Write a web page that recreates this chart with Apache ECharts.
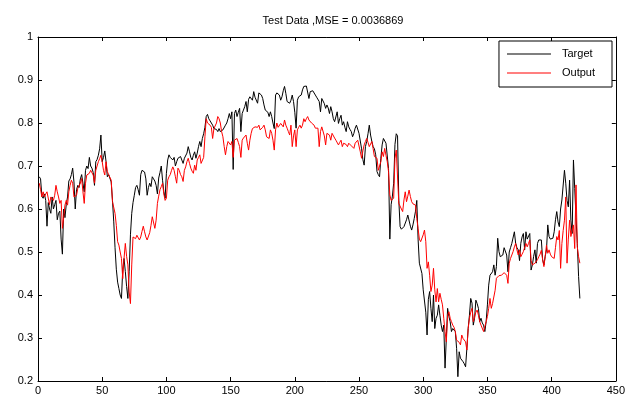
<!DOCTYPE html>
<html><head><meta charset="utf-8">
<script src="https://cdn.jsdelivr.net/npm/echarts@6/dist/echarts.min.js"></script>
<style>html,body{margin:0;padding:0;background:#fff}#c{width:628px;height:396px}</style>
</head><body><div id="c"></div><script>
const titleText = 'Test Data ,MSE = 0.0036869';
const seriesNames = ['Target', 'Output'];
const xTicks = [0, 50, 100, 150, 200, 250, 300, 350, 400, 450];
const yTicks = [0.2, 0.3, 0.4, 0.5, 0.6, 0.7, 0.8, 0.9, 1];

const target = [
0.675,0.67,0.63,0.625,0.635,0.62,0.56,0.615,0.60,0.59,
0.628,0.60,0.61,0.62,0.575,0.59,0.595,0.53,0.495,0.60,
0.58,0.61,0.628,0.665,0.67,0.68,0.695,0.663,0.60,0.645,
0.655,0.65,0.67,0.68,0.66,0.64,0.69,0.70,0.694,0.72,
0.70,0.695,0.685,0.655,0.71,0.715,0.725,0.74,0.772,0.71,
0.72,0.735,0.71,0.675,0.68,0.68,0.663,0.62,0.57,0.51,
0.46,0.43,0.415,0.40,0.392,0.46,0.485,0.455,0.42,0.392,
0.454,0.54,0.59,0.615,0.632,0.65,0.655,0.645,0.632,0.68,
0.69,0.694,0.686,0.67,0.632,0.65,0.66,0.652,0.675,0.67,
0.665,0.655,0.635,
0.672,0.685,0.70,0.667,0.64,0.625,0.683,0.714,0.726,
0.72,0.716,0.714,0.72,0.70,0.71,0.718,0.714,0.722,0.72,
0.706,0.718,0.714,0.73,0.745,0.733,0.72,0.714,0.725,0.733,
0.718,0.73,0.745,0.757,0.745,0.764,0.775,0.79,0.815,0.82,
0.81,0.805,0.80,0.795,0.787,0.79,0.785,0.78,0.787,0.78,
0.776,0.784,0.78,0.795,0.80,0.81,0.822,0.81,0.826,0.692,
0.822,0.83,0.815,0.825,0.834,0.78,0.822,0.83,0.838,0.85,
0.826,0.855,0.861,0.865,0.853,0.873,0.86,0.857,0.846,0.87,
0.873,0.865,0.857,0.842,0.83,0.834,0.825,0.815,0.826,0.815,
0.80,0.787,0.865,0.87,
0.869,0.865,0.853,0.861,0.875,0.885,0.869,0.85,
0.848,0.846,0.853,0.865,0.85,0.825,0.788,0.853,0.861,0.857,
0.865,0.877,0.885,0.888,0.886,0.885,0.857,0.873,0.877,0.875,
0.877,0.865,0.86,0.857,0.85,0.826,0.857,0.853,0.845,0.834,
0.842,0.835,0.822,0.838,0.826,0.81,0.803,0.807,0.826,0.799,
0.81,0.818,0.795,0.803,0.79,0.78,0.803,0.791,0.785,0.78,
0.768,0.776,0.788,0.795,0.799,0.776,0.772,0.74,0.715,0.702,
0.745,0.757,0.775,0.795,0.772,0.757,0.745,0.74,0.726,0.687,
0.68,0.675,0.718,0.749,0.764,0.76,0.753,0.749,0.694,0.53,
0.61,0.63,0.66,0.75,0.775,0.77,0.62,
0.559,0.553,0.551,0.559,0.555,0.575,0.586,0.582,
0.56,0.551,0.563,0.578,0.595,0.62,0.53,0.474,0.477,0.45,
0.412,0.41,0.36,0.307,0.39,0.408,0.369,0.338,0.40,0.322,
0.346,0.353,0.377,0.353,0.33,0.315,0.33,0.23,0.30,0.369,
0.35,0.338,0.315,0.322,0.318,0.315,0.276,0.21,0.268,0.253,
0.25,0.245,0.24,0.233,0.276,0.322,0.353,0.392,0.381,0.33,
0.346,0.388,0.38,0.369,0.338,0.346,0.335,0.33,0.315,0.338,
0.377,0.423,0.446,0.45,0.454,0.47,0.446,0.466,0.532,0.501,
0.489,0.49,0.493,0.51,0.512,0.493,0.454,0.50,0.51,0.52,
0.524,0.547,0.52,0.51,0.505,
0.48,0.52,0.535,0.543,0.505,
0.547,0.53,0.528,0.543,0.458,0.47,0.49,0.505,0.474,0.52,
0.528,0.532,0.528,0.482,0.47,0.49,0.505,0.563,0.536,0.53,
0.528,0.532,0.547,0.575,0.594,0.57,0.559,0.60,0.621,0.625,
0.69,0.66,0.62,0.605,0.667,0.574,0.543,0.714,0.648,0.58,
0.52,0.443,0.392
];

const output = [
0.66,0.645,0.628,0.64,0.628,0.635,0.64,0.636,0.61,0.628,
0.625,0.62,0.632,0.655,0.64,0.628,0.613,0.62,0.555,0.58,
0.609,0.62,0.609,0.64,0.655,0.667,0.66,0.628,0.63,0.632,
0.648,0.644,0.66,0.671,0.64,0.613,0.66,0.679,0.675,0.683,
0.69,0.694,0.679,0.66,0.69,0.70,0.71,0.717,0.725,0.71,
0.69,0.679,0.71,0.687,0.68,0.679,0.667,0.617,0.615,0.59,
0.562,0.524,0.516,0.50,0.485,0.438,0.485,0.52,0.49,0.47,
0.407,0.38,0.47,0.535,0.533,0.531,0.539,0.535,0.528,0.535,
0.548,0.56,0.547,0.535,0.528,0.524,0.545,0.562,0.582,0.586,
0.555,0.574,0.613,
0.63,0.645,0.652,0.66,0.635,0.62,0.625,0.667,0.675,
0.68,0.69,0.698,0.69,0.675,0.66,0.695,0.69,0.68,0.675,
0.664,0.69,0.698,0.71,0.718,0.706,0.695,0.688,0.683,0.702,
0.69,0.714,0.72,0.726,0.706,0.702,0.72,0.768,0.81,0.80,
0.80,0.795,0.79,0.764,0.787,0.784,0.80,0.815,0.81,0.80,
0.78,0.768,0.745,0.726,0.745,0.757,0.76,0.749,0.757,0.72,
0.76,0.757,0.764,0.755,0.745,0.72,0.76,0.765,0.768,0.772,
0.753,0.737,0.76,0.776,0.787,0.784,0.791,0.79,0.79,0.795,
0.784,0.787,0.79,0.795,0.784,0.768,0.766,0.764,0.784,0.776,
0.76,0.737,0.784,0.80,
0.79,0.788,0.799,0.795,0.791,0.807,0.795,0.788,
0.78,0.772,0.795,0.745,0.77,0.784,0.745,0.784,0.79,0.795,
0.788,0.795,0.81,0.803,0.81,0.815,0.807,0.803,0.80,0.799,
0.795,0.788,0.79,0.788,0.745,0.78,0.791,0.788,0.77,0.749,
0.776,0.772,0.772,0.76,0.776,0.772,0.765,0.76,0.764,0.749,
0.755,0.76,0.745,0.753,0.753,0.75,0.745,0.753,0.749,0.747,
0.745,0.741,0.753,0.757,0.76,0.764,0.733,0.718,0.735,0.749,
0.757,0.764,0.755,0.745,0.741,0.757,0.74,0.722,0.722,0.718,
0.69,0.70,0.71,0.733,0.722,0.741,0.725,0.71,0.687,0.633,
0.62,0.62,0.625,0.718,0.737,0.733,0.613,
0.609,0.60,0.594,0.621,0.64,0.617,0.63,0.644,
0.629,0.617,0.612,0.609,0.609,0.578,0.555,0.53,0.524,0.528,
0.54,0.551,0.524,0.462,0.477,0.446,0.408,0.423,0.462,0.412,
0.384,0.415,0.384,0.404,0.39,0.377,0.346,0.315,0.291,0.353,
0.361,0.346,0.338,0.33,0.325,0.315,0.295,0.299,0.29,0.284,
0.307,0.299,0.295,0.291,0.272,0.322,0.346,0.36,0.369,0.338,
0.349,0.36,0.365,0.353,0.338,0.33,0.326,0.315,0.318,0.338,
0.35,0.369,0.392,0.369,0.38,0.384,0.411,0.439,0.443,0.445,
0.446,0.446,0.45,0.452,0.454,0.446,0.427,0.474,0.485,0.493,
0.501,0.512,0.52,0.505,0.493,
0.505,0.489,0.495,0.501,0.497,
0.52,0.512,0.52,0.528,0.48,0.47,0.472,0.474,0.47,0.482,
0.489,0.495,0.504,0.482,0.466,0.49,0.516,0.497,0.505,0.495,
0.489,0.489,0.485,0.51,0.536,0.528,0.55,0.462,0.52,0.55,
0.574,0.628,0.474,0.53,0.574,0.536,0.55,0.563,0.508,0.656,
0.512,0.489,0.474
];

const FONT = '"Liberation Sans", Arial, Helvetica, sans-serif';
const chart = echarts.init(document.getElementById('c'), null, {renderer: 'canvas'});
const pairs = arr => arr.map((v, i) => [i + 1, v]);
const axisBase = {
  axisLine: {show: true, onZero: false, lineStyle: {color: '#000', width: 1}},
  axisTick: {show: true, inside: true, length: 4, lineStyle: {color: '#000', width: 1}},
  splitLine: {show: false}
};
chart.setOption({
  animation: false,
  backgroundColor: '#fff',
  title: {
    text: titleText, left: 328, top: 10, textAlign: 'center',
    textStyle: {fontFamily: FONT, fontSize: 11, fontWeight: 'normal', color: '#000'}
  },
  legend: {
    orient: 'vertical', right: 16, top: 41,
    icon: 'rect', itemWidth: 44, itemHeight: 1, itemGap: 5,
    padding: [6, 17, 7, 8],
    borderColor: '#000', borderWidth: 1, borderRadius: 0, backgroundColor: '#fff',
    textStyle: {fontFamily: FONT, fontSize: 11, color: '#000', lineHeight: 14, padding: [0, 0, 0, 6]},
    data: seriesNames
  },
  grid: {left: 38, right: 9, top: 37, bottom: 15, containLabel: false},
  xAxis: [
    Object.assign({type: 'value', position: 'bottom', min: xTicks[0], max: xTicks[xTicks.length-1], interval: 50,
      axisLabel: {show: true, color: '#000', fontFamily: FONT, fontSize: 11, margin: 4}}, axisBase),
    Object.assign({type: 'value', position: 'top', min: xTicks[0], max: xTicks[xTicks.length-1], interval: 50,
      axisLabel: {show: false}}, axisBase)
  ],
  yAxis: [
    Object.assign({type: 'value', position: 'left', min: yTicks[0], max: yTicks[yTicks.length-1], interval: 0.1,
      axisLabel: {show: true, color: '#000', fontFamily: FONT, fontSize: 11, margin: 5,
        formatter: v => String(Math.round(v * 10) / 10)}}, axisBase),
    Object.assign({type: 'value', position: 'right', min: yTicks[0], max: yTicks[yTicks.length-1], interval: 0.1,
      axisLabel: {show: false}}, axisBase)
  ],
  series: [
    {name: seriesNames[0], type: 'line', data: pairs(target), symbol: 'none', showSymbol: false,
      lineStyle: {color: '#000', width: 1}, itemStyle: {color: '#000'}, xAxisIndex: 0, yAxisIndex: 0},
    {name: seriesNames[1], type: 'line', data: pairs(output), symbol: 'none', showSymbol: false,
      lineStyle: {color: '#ff0000', width: 1}, itemStyle: {color: '#ff0000'}, xAxisIndex: 0, yAxisIndex: 0}
  ]
});
</script></body></html>
